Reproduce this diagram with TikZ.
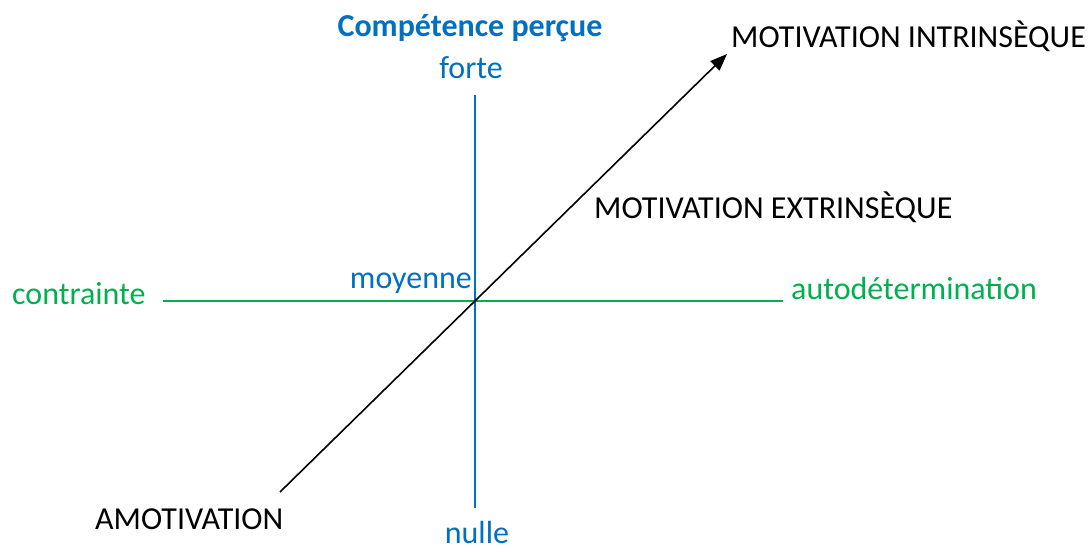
\documentclass[tikz,border=0pt]{standalone}
\usepackage{fontspec}
\setmainfont{Carlito}
\usetikzlibrary{arrows.meta}
\definecolor{cblue}{HTML}{0070C0}
\definecolor{cgreen}{HTML}{00B050}
\begin{document}
\begin{tikzpicture}[x=1pt,y=-1pt,
  lbl/.style={inner sep=0pt,font=\fontsize{32}{36}\selectfont},
  bluelbl/.style={lbl,text=cblue},
  greenlbl/.style={lbl,text=cgreen},
  blacklbl/.style={lbl,text=black},
  axis/.style={line width=1.6pt}]
\useasboundingbox (0,0) rectangle (1091,551);
% axes end points
\coordinate (vtop) at (475,95);
\coordinate (vbot) at (475,508);
\coordinate (hleft) at (163,301);
\coordinate (hright) at (783,301);
\coordinate (astart) at (280,492);
\coordinate (aend) at (727,54);
\draw[axis,cblue] (vtop) -- (vbot);
\draw[axis,cgreen] (hleft) -- (hright);
\draw[line width=1.6pt,-{Triangle[length=17pt,width=13pt]}] (astart) -- (aend);
% labels
\node[bluelbl,anchor=base,font=\fontsize{32}{36}\selectfont\bfseries] (titre) at (470,37) {Compétence perçue};
\node[bluelbl,anchor=base] (forte) at (471,78) {forte};
\node[bluelbl,anchor=base] (nulle) at (477,543) {nulle};
\node[bluelbl,anchor=base east] (moyenne) at (472,288) {moyenne};
\node[greenlbl,anchor=base west] (contrainte) at (12,304) {contrainte};
\node[greenlbl,anchor=base west] (auto) at (791,299) {autodétermination};
\node[blacklbl,anchor=base west] (intr) at (731,48) {MOTIVATION INTRINSÈQUE};
\node[blacklbl,anchor=base west] (extr) at (594,218) {MOTIVATION EXTRINSÈQUE};
\node[blacklbl,anchor=base west] (amot) at (95,529) {AMOTIVATION};
\end{tikzpicture}
\end{document}
